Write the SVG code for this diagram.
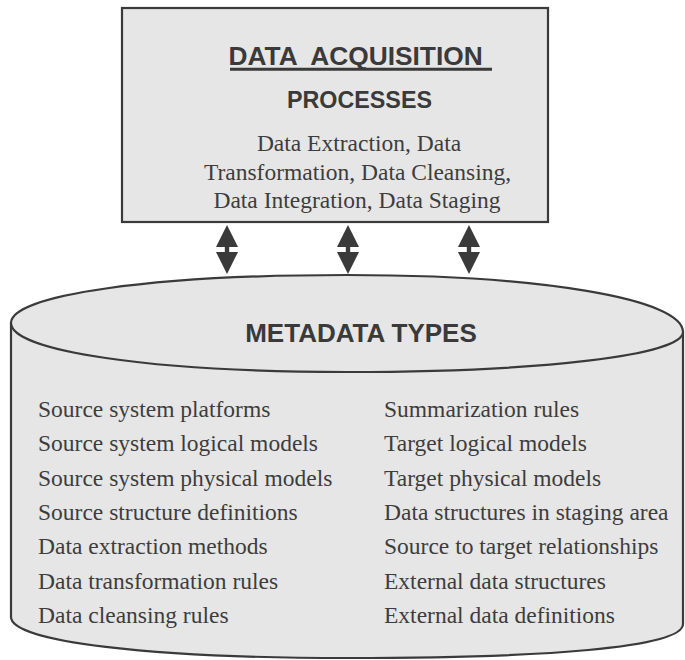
<svg xmlns="http://www.w3.org/2000/svg" width="685" height="660" viewBox="0 0 685 660">
<style>
.shape{fill:#e6e6e6;stroke:#3a3a3a;stroke-width:2.2}
.hd{font-family:"Liberation Sans",Arial,sans-serif;font-weight:bold;fill:#3a3a3a}
.sf{font-family:"Liberation Serif","Times New Roman",serif;font-size:23.5px;fill:#3d3d3d}
.arw{fill:#3a3a3a}
</style>
<defs>
<path id="dbl" d="M0,-24.5 L11,-2.5 L-11,-2.5 Z M-2.2,-3 H2.2 V3 H-2.2 Z M-11,2.5 L11,2.5 L0,24.5 Z"/>
</defs>
<rect width="685" height="660" fill="#ffffff"/>
<g id="acquisition">
<rect class="shape" x="122" y="8" width="426" height="214" stroke-width="2.8"/>
<text class="hd" x="228.5" y="65" font-size="26.3" style="white-space:pre">DATA  ACQUISITION</text>
<line x1="230" y1="69.2" x2="492" y2="69.2" stroke="#3a3a3a" stroke-width="3"/>
<text class="hd" x="359.5" y="108" font-size="23.3" text-anchor="middle">PROCESSES</text>
<text class="sf" text-anchor="middle"><tspan x="359" y="151">Data Extraction, Data</tspan><tspan x="357.5" y="179.5">Transformation, Data Cleansing,</tspan><tspan x="357" y="208">Data Integration, Data Staging</tspan></text>
</g>
<g id="connectors" class="arw">
<use href="#dbl" x="227" y="249.5"/>
<use href="#dbl" x="348" y="249.5"/>
<use href="#dbl" x="469" y="249.5"/>
</g>
<g id="metadata">
<path class="shape" d="M11,323 L11,617 C11,642 152,658 347,658 C542,658 683,648 683,624 L683,332 Z"/>
<path class="shape" d="M11,323 C11,295 152,275 347,275 C542,275 683,299 683,332 C683,355 542,372 347,372 C152,372 11,351 11,323 Z"/>
<text class="hd" x="361" y="342" font-size="26" text-anchor="middle">METADATA TYPES</text>
<text class="sf">
<tspan x="38" y="417">Source system platforms</tspan>
<tspan x="38" y="451.3">Source system logical models</tspan>
<tspan x="38" y="485.7">Source system physical models</tspan>
<tspan x="38" y="520">Source structure definitions</tspan>
<tspan x="38" y="554.3">Data extraction methods</tspan>
<tspan x="38" y="588.7">Data transformation rules</tspan>
<tspan x="38" y="623">Data cleansing rules</tspan>
</text>
<text class="sf">
<tspan x="384" y="417">Summarization rules</tspan>
<tspan x="384" y="451.3">Target logical models</tspan>
<tspan x="384" y="485.7">Target physical models</tspan>
<tspan x="384" y="520">Data structures in staging area</tspan>
<tspan x="384" y="554.3">Source to target relationships</tspan>
<tspan x="384" y="588.7">External data structures</tspan>
<tspan x="384" y="623">External data definitions</tspan>
</text>
</g>
</svg>
